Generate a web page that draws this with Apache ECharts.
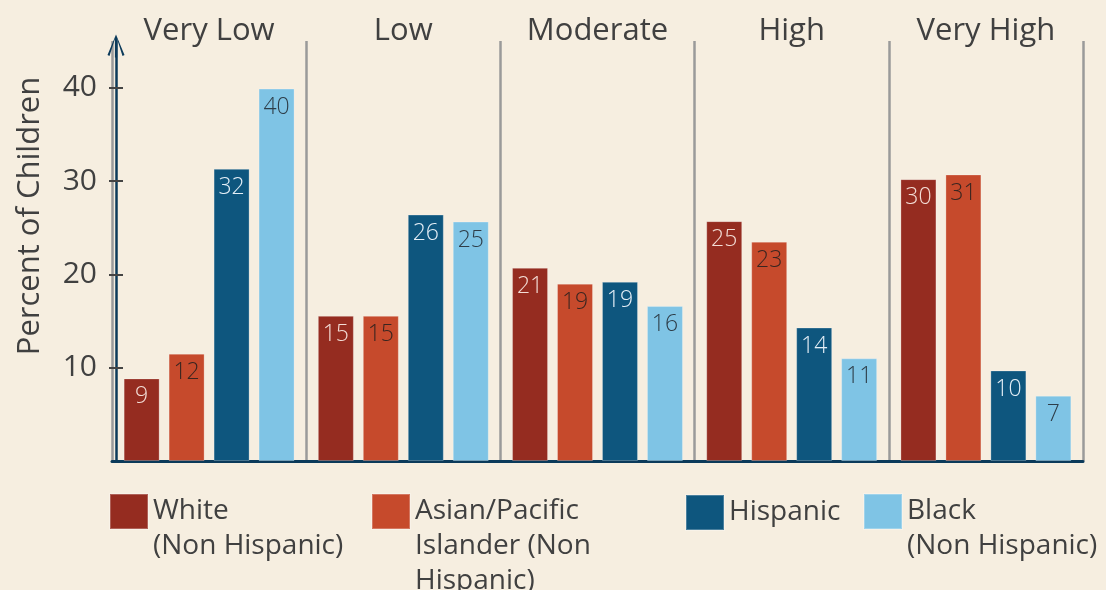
<!DOCTYPE html>
<html>
<head>
<meta charset="utf-8">
<script src="https://cdn.jsdelivr.net/npm/echarts@6/dist/echarts.min.js"></script>
<style>
  html, body { margin: 0; padding: 0; background: #f6eee0; }
  #chart { width: 1106px; height: 590px; }
</style>
</head>
<body>
<div id="chart"></div>
<script>
// ---- data ----
const categories = ['Very Low', 'Low', 'Moderate', 'High', 'Very High'];
const seriesNames = ['White (Non Hispanic)', 'Asian/Pacific Islander (Non Hispanic)', 'Hispanic', 'Black (Non Hispanic)'];
const legendTexts = ['White\n(Non Hispanic)', 'Asian/Pacific\nIslander (Non\nHispanic)', 'Hispanic', 'Black\n(Non Hispanic)'];
// bar heights
const whiteValues    = [8.85, 15.55, 20.7, 25.7, 30.2];
const asianValues    = [11.5, 15.55, 19.0, 23.5, 30.7];
const hispanicValues = [31.3, 26.4, 19.2, 14.3, 9.7];
const blackValues    = [39.9, 25.65, 16.6, 11.0, 7.0];
// printed labels on the bars
const whiteLabels    = [9, 15, 21, 25, 30];
const asianLabels    = [12, 15, 19, 23, 31];
const hispanicLabels = [32, 26, 19, 14, 10];
const blackLabels    = [40, 25, 16, 11, 7];
const yTicks = [10, 20, 30, 40];

const valuesList = [whiteValues, asianValues, hispanicValues, blackValues];
const labelsList = [whiteLabels, asianLabels, hispanicLabels, blackLabels];
const colors = ['#952c20', '#c64a2c', '#0e567e', '#7fc4e5'];
const labelColors = ['#f3ddd6', '#3a2520', '#e4eef6', '#2e3d48'];

const FONT = '"Open Sans", "Noto Sans", sans-serif';
const TEXT = '#404040';
const NAVY = '#0b3a5a';

const chart = echarts.init(document.getElementById('chart'), null, { renderer: 'canvas' });

const series = seriesNames.map((name, i) => ({
  name: name,
  type: 'bar',
  xAxisIndex: 0,
  yAxisIndex: 0,
  barGap: '25%',
  barCategoryGap: '12%',
  data: valuesList[i],
  itemStyle: { color: colors[i], borderColor: 'rgba(255,255,255,0.25)', borderWidth: 1 },
  label: {
    show: true,
    position: 'insideTop',
    distance: 7,
    fontFamily: FONT,
    fontSize: 23,
    fontWeight: 300,
    color: labelColors[i],
    formatter: p => String(labelsList[i][p.dataIndex])
  }
}));

const LH = 35;
const legendLefts = [109, 371, 685, 863];
const iconTop = 494;
const legends = seriesNames.map((name, i) => {
  const n = legendTexts[i].split('\n').length;
  const c = iconTop + 17.5;
  const rectTop = c - (2 * n - 1) * LH / 2;
  const shown = '\n'.repeat(n - 1) + legendTexts[i];
  return {
    data: [name],
    left: legendLefts[i],
    top: rectTop,
    padding: 0,
    orient: 'horizontal',
    selectedMode: false,
    icon: 'rect',
    itemWidth: 38,
    itemHeight: 35,
    itemGap: 0,
    formatter: () => shown,
    textStyle: {
      fontFamily: FONT,
      fontSize: 28,
      color: TEXT,
      lineHeight: LH
    }
  };
});

const arrowPath = 'path://M8.5,0 L17,20.5 L15,21.5 L9.6,4.5 L9.6,23 L7.4,23 L7.4,4.5 L2,21.5 L0,20.5 Z';

const option = {
  backgroundColor: '#f6eee0',
  animation: false,
  textStyle: { fontFamily: FONT },
  legend: legends,
  grid: { left: 112, right: 23, top: 41, bottom: 129, containLabel: false, outerBoundsMode: 'none' },
  xAxis: [
    {
      type: 'category',
      data: categories,
      position: 'bottom',
      axisLine: { show: true, onZero: false, lineStyle: { color: NAVY, width: 3 } },
      axisTick: { show: false },
      axisLabel: { show: false },
      splitLine: { show: true, interval: 0, lineStyle: { color: '#9a9a9a', width: 2.5 } }
    },
    {
      type: 'category',
      data: categories,
      position: 'top',
      axisLine: { show: false },
      axisTick: { show: false },
      splitLine: { show: false },
      axisLabel: {
        show: true, interval: 0, margin: -6,
        fontFamily: FONT, fontSize: 31, color: TEXT
      }
    }
  ],
  yAxis: [
    {
      type: 'value',
      min: 0,
      max: 45,
      interval: 5,
      offset: -4,
      name: 'Percent of Children',
      nameLocation: 'middle',
      nameGap: 70,
      nameTextStyle: { fontFamily: FONT, fontSize: 31, color: TEXT, padding: [0, 0, 0, 70] },
      axisLine: {
        show: true,
        lineStyle: { color: NAVY, width: 2.5 },
        symbol: ['none', arrowPath],
        symbolSize: [17, 23],
        symbolOffset: [0, -5]
      },
      axisTick: { show: true, length: 7, customValues: yTicks, lineStyle: { color: '#444', width: 2 } },
      axisLabel: {
        show: true, margin: 19, customValues: yTicks,
        fontFamily: FONT, fontSize: 30, color: TEXT
      },
      splitLine: { show: false }
    },
    {
      type: 'value',
      min: 0,
      max: 45,
      interval: 5,
      offset: -4,
      position: 'left',
      axisLine: { show: false },
      axisTick: { show: true, inside: true, length: 7, customValues: yTicks, lineStyle: { color: '#444', width: 2 } },
      axisLabel: { show: false },
      splitLine: { show: false }
    }
  ],
  series: series
};

chart.setOption(option);
</script>
</body>
</html>
